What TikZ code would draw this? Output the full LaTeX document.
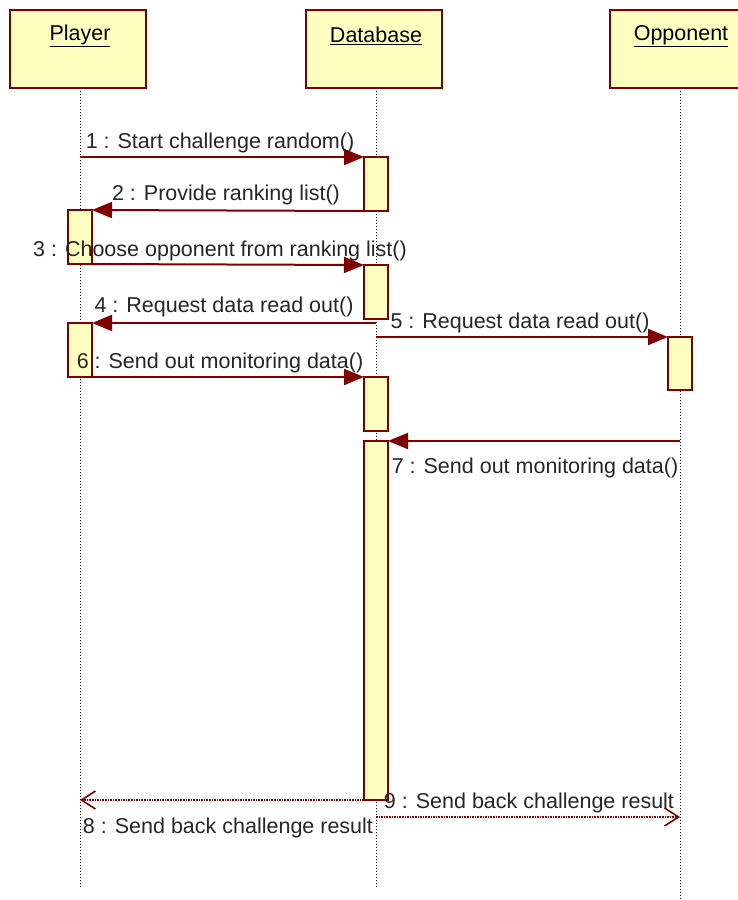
\documentclass[tikz,border=0pt]{standalone}
\usepackage{fontspec}
\setmainfont{Liberation Sans}
\usetikzlibrary{arrows.meta}
\definecolor{umlred}{HTML}{800000}
\definecolor{umlfill}{HTML}{FFFFC0}
\begin{document}
\begin{tikzpicture}[x=1pt,y=-1pt,
  objbox/.style={draw=umlred, fill=umlfill, line width=2pt, minimum width=136pt, minimum height=78pt, inner sep=0pt, outer sep=0pt, anchor=north west},
  objlabel/.style={font=\fontsize{21.5}{24}\selectfont, inner sep=0pt},
  lifeline/.style={draw=black, line width=1pt, dotted},
  act/.style={draw=umlred, fill=umlfill, line width=2pt, minimum width=24pt, inner sep=0pt, outer sep=0pt, anchor=north},
  callmsg/.style={draw=umlred, line width=2pt, -{Triangle[length=20pt,width=16pt]}, umlred},
  retmsg/.style={draw=umlred, line width=1.6pt, densely dotted, -{Straight Barb[length=14pt,width=18pt,line width=1.6pt]}, umlred},
  msglabel/.style={font=\fontsize{21.5}{24}\selectfont, inner sep=0pt, text=black!85}
]
\useasboundingbox (0,0) rectangle (737,900);

% lifelines
\coordinate (plTop) at (80,88);   \coordinate (plBot) at (80,888);
\coordinate (dbTop) at (376,88);  \coordinate (dbBot) at (376,888);
\coordinate (opTop) at (680,88);  \coordinate (opBot) at (680,900);
\draw[lifeline] (plTop) -- (plBot);
\draw[lifeline] (dbTop) -- (dbBot);
\draw[lifeline] (opTop) -- (opBot);

% object boxes
\node[objbox] (player) at (10,10) {};
\node[objbox] (database) at (306,10) {};
\node[objbox] (opponent) at (610,10) {};
\node[objlabel] at (80,36) {\underline{Player}};
\node[objlabel] at (376,36) {\underline{Database}};
\node[objlabel] at (681,36) {\underline{Opponent}};

% activation bars
\node[act, minimum height=54pt] (db1) at (376,157) {};
\node[act, minimum height=54pt] (pl1) at (80,210) {};
\node[act, minimum height=54pt] (db2) at (376,265) {};
\node[act, minimum height=54pt] (pl2) at (80,323) {};
\node[act, minimum height=53pt] (op1) at (680,337) {};
\node[act, minimum height=54pt] (db3) at (376,377) {};
\node[act, minimum height=359pt] (db4) at (376,441) {};

% messages
\draw[callmsg] (db1.north west -| plTop) -- (db1.north west);
\draw[callmsg] (db1.south west) -- (pl1.north east);
\draw[callmsg] (pl1.south east) -- (db2.north west);
\draw[callmsg] (pl2.north east -| dbTop) -- (pl2.north east);
\draw[callmsg] (op1.north west -| dbTop) -- (op1.north west);
\draw[callmsg] (pl2.south east) -- (db3.north west);
\draw[callmsg] (db4.north east -| opTop) -- (db4.north east);
\draw[retmsg] (db4.south west) -- (db4.south west -| plTop);
\coordinate (r9) at (376,817);
\draw[retmsg] (r9) -- (r9 -| opTop);

% message labels
\node[msglabel] at (220,143) {1 : Start challenge random()};
\node[msglabel] at (226,195) {2 : Provide ranking list()};
\node[msglabel] at (220,251) {3 : Choose opponent from ranking list()};
\node[msglabel] at (224,307) {4 : Request data read out()};
\node[msglabel] at (520,323) {5 : Request data read out()};
\node[msglabel] at (220,363) {6 : Send out monitoring data()};
\node[msglabel] at (535,468) {7 : Send out monitoring data()};
\node[msglabel] at (228,828) {8 : Send back challenge result};
\node[msglabel] at (529,803) {9 : Send back challenge result};
\end{tikzpicture}
\end{document}
